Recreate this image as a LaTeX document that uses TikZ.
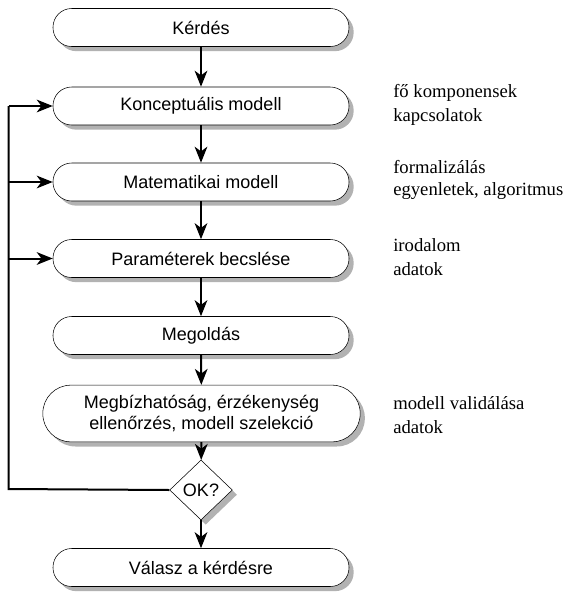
\documentclass[tikz,border=0pt]{standalone}
\usepackage{fontspec}
\setmainfont{Liberation Serif}
\newfontfamily\boxfont{Liberation Sans}
\usetikzlibrary{shapes.geometric,shadows,arrows.meta}
\tikzset{
  flowbox/.style={draw, thin, fill=white, rounded corners=14pt,
    minimum width=222pt, minimum height=28.5pt, inner sep=2pt,
    font=\boxfont\fontsize{13.5pt}{15.5pt}\selectfont, align=center,
    drop shadow={shadow xshift=3.5pt, shadow yshift=-3.5pt, fill=black!30, opacity=1}},
  decision/.style={draw, thin, fill=white, diamond, aspect=1.05,
    minimum width=47pt, minimum height=45pt, inner sep=0pt,
    font=\boxfont\fontsize{13.5pt}{15.5pt}\selectfont,
    drop shadow={shadow xshift=3.5pt, shadow yshift=-3.5pt, fill=black!30, opacity=1}},
  flow/.style={line width=1.5pt, -{Stealth[length=12pt,width=9.5pt,inset=3.5pt]}},
  back/.style={line width=1.5pt},
  note/.style={anchor=west, inner sep=0pt, font=\fontsize{14pt}{16pt}\selectfont}
}
\begin{document}
\begin{tikzpicture}[x=0.75pt,y=-0.75pt]
\useasboundingbox (0,0) rectangle (567,600);
\node[flowbox] (k1) at (201,27.5) {Kérdés};
\node[flowbox] (k2) at (201,106) {Konceptuális modell};
\node[flowbox] (k3) at (201,182) {Matematikai modell};
\node[flowbox] (k4) at (201,258.5) {Paraméterek becslése};
\node[flowbox] (k5) at (201,335.5) {Megoldás};
\node[flowbox, minimum width=238pt, minimum height=42.5pt, rounded corners=21pt] (k6) at (201.5,413.5) {Megbízhatóság, érzékenység\\ellenőrzés, modell szelekció};
\node[decision] (ok) at (201,490) {OK?};
\node[flowbox] (k7) at (201,567.5) {Válasz a kérdésre};

\draw[flow] (k1) -- (k2);
\draw[flow] (k2) -- (k3);
\draw[flow] (k3) -- (k4);
\draw[flow] (k4) -- (k5);
\draw[flow] (k5) -- (k6);
\draw[flow] (k6) -- (ok);
\draw[flow] (ok) -- (k7);

\coordinate (c1) at (8.5,106);
\coordinate (c2) at (8.5,182);
\coordinate (c3) at (8.5,258.5);
\coordinate (c0) at (8.5,489);
\draw[back, line join=miter] (ok.west) -- (c0) -- (c1);
\draw[flow] (c1) -- (k2.west);
\draw[flow] (c2) -- (k3.west);
\draw[flow] (c3) -- (k4.west);

\node[note] (n1) at (393,93) {fő komponensek};
\node[note] (n2) at (393,117) {kapcsolatok};
\node[note] (n3) at (393,167) {formalizálás};
\node[note] (n4) at (393,191) {egyenletek, algoritmus};
\node[note] (n5) at (393,245) {irodalom};
\node[note] (n6) at (393,269) {adatok};
\node[note] (n7) at (393,403) {modell validálása};
\node[note] (n8) at (393,427) {adatok};
\end{tikzpicture}
\end{document}
